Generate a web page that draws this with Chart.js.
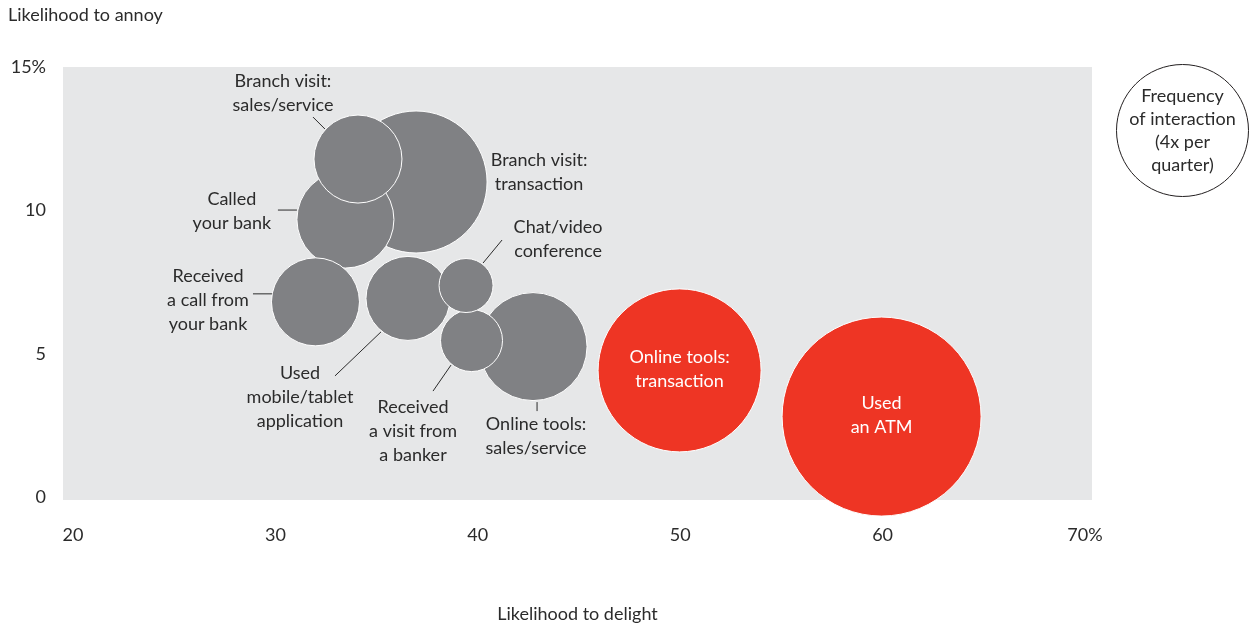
<!DOCTYPE html>
<html>
<head>
<meta charset="utf-8">
<script src="https://cdn.jsdelivr.net/npm/chart.js@4"></script>
<style>
  html, body { margin: 0; padding: 0; background: #fff; }
  #wrap { width: 1254px; height: 629px; position: relative; }
</style>
</head>
<body>
<div id="wrap"><canvas id="bubbleChart"></canvas></div>
<script>
// Interactions, drawn back to front
const interactions = [
    ['Branch visit:', 'transaction'],
    ['Called', 'your bank'],
    ['Branch visit:', 'sales/service'],
    ['Received', 'a call from', 'your bank'],
    ['Used', 'mobile/tablet', 'application'],
    ['Online tools:', 'sales/service'],
    ['Received', 'a visit from', 'a banker'],
    ['Chat/video', 'conference'],
    ['Online tools:', 'transaction'],
    ['Used', 'an ATM']
];
const delight = [36.95, 33.46, 34.08, 31.98, 36.55, 42.73, 39.69, 39.42, 49.97, 59.95];
const annoy = [10.99, 9.68, 11.79, 6.81, 6.93, 5.25, 5.46, 7.38, 4.42, 2.81];
const bubbleSize = [71, 48.5, 44, 44, 42, 54, 31, 27, 81.5, 99.5];
const digital = [false, false, false, false, false, false, false, false, true, true];

const xTicks = [20, 30, 40, 50, 60, 70];
const yTicks = [0, 5, 10, 15];

const GRAY = '#808184';
const RED = '#EE3524';
const TEXT = '#2b2b2b';
const FONT = 'Lato, "Noto Sans", sans-serif';
const FONT_SIZE = 18;

// label placement relative to bubble centre: text offset, optional leader line
const labelLayout = [
    { dx: 123, dy: -22 },
    { dx: -113.5, dy: -20.5, line: [-67.5, -9.5, -48.5, -9.5] },
    { dx: -75, dy: -78, line: [-45, -42, -33, -30] },
    { dx: -107.5, dy: -26, line: [-62.5, -8, -43.5, -8] },
    { dx: -108, dy: 74.5, line: [-73, 77.5, -27, 33.5] },
    { dx: 3, dy: 77.5, line: [4, 55.5, 4, 64.5] },
    { dx: -58.5, dy: 66.5, line: [-38.5, 50.5, -20.5, 24.5] },
    { dx: 92, dy: -58.5, line: [17, -22.5, 36, -45.5] },
    { dx: 0, dy: -13.5, inside: true },
    { dx: 0, dy: -13.5, inside: true }
];

const points = delight.map((x, i) => ({ x: x, y: annoy[i], r: bubbleSize[i] }));

const plotBackground = {
    id: 'plotBackground',
    beforeDraw(chart) {
        const { ctx, chartArea } = chart;
        ctx.save();
        ctx.fillStyle = '#E6E7E8';
        ctx.fillRect(chartArea.left, chartArea.top, chartArea.right - chartArea.left, chartArea.bottom - chartArea.top);
        ctx.restore();
    }
};

const annotations = {
    id: 'annotations',
    afterDraw(chart) {
        const ctx = chart.ctx;
        const xs = chart.scales.x, ys = chart.scales.y;
        ctx.save();
        ctx.font = FONT_SIZE + 'px ' + FONT;
        ctx.textAlign = 'center';
        ctx.textBaseline = 'middle';
        interactions.forEach((lines, i) => {
            const cx = xs.getPixelForValue(delight[i]);
            const cy = ys.getPixelForValue(annoy[i]);
            const lay = labelLayout[i];
            ctx.fillStyle = lay.inside ? '#fff' : TEXT;
            lines.forEach((t, k) => ctx.fillText(t, cx + lay.dx, cy + lay.dy + k * 24));
            if (lay.line) {
                ctx.strokeStyle = TEXT;
                ctx.lineWidth = 1;
                ctx.beginPath();
                ctx.moveTo(cx + lay.line[0], cy + lay.line[1]);
                ctx.lineTo(cx + lay.line[2], cy + lay.line[3]);
                ctx.stroke();
            }
        });

        // axis title at top left
        ctx.fillStyle = TEXT;
        ctx.textAlign = 'left';
        ctx.fillText('Likelihood to annoy', 8, 15);

        // size legend
        ctx.beginPath();
        ctx.arc(1182.5, 130.5, 66, 0, Math.PI * 2);
        ctx.fillStyle = '#fff';
        ctx.fill();
        ctx.strokeStyle = '#231F20';
        ctx.lineWidth = 1;
        ctx.stroke();
        ctx.fillStyle = TEXT;
        ctx.textAlign = 'center';
        ['Frequency', 'of interaction', '(4x per', 'quarter)'].forEach((t, k) => {
            ctx.fillText(t, 1182.5, 96 + k * 23);
        });
        ctx.restore();
    }
};

const ctx = document.getElementById('bubbleChart').getContext('2d');
const chart = new Chart(ctx, {
    type: 'bubble',
    data: {
        datasets: [{
            data: points,
            backgroundColor: digital.map(d => d ? RED : GRAY),
            borderColor: '#ffffff',
            borderWidth: 1,
            hoverBorderWidth: 1,
            clip: false
        }]
    },
    options: {
        responsive: true,
        maintainAspectRatio: false,
        animation: false,
        events: [],
        layout: { autoPadding: false, padding: { top: 67, right: 162, left: 0, bottom: 0 } },
        plugins: {
            legend: { display: false },
            tooltip: { enabled: false }
        },
        scales: {
            x: {
                type: 'linear',
                min: 19.506,
                max: 70.346,
                grid: { display: false },
                border: { display: false },
                afterBuildTicks: s => { s.ticks = xTicks.map(v => ({ value: v })); },
                afterFit: s => { s.height = 129; },
                ticks: {
                    padding: 16,
                    color: TEXT,
                    font: { size: FONT_SIZE, family: FONT },
                    callback: v => v === 70 ? '70%' : v
                },
                title: {
                    display: true,
                    text: 'Likelihood to delight',
                    color: TEXT,
                    font: { size: FONT_SIZE, family: FONT },
                    padding: { top: 0, bottom: 4 }
                }
            },
            y: {
                type: 'linear',
                min: -0.1,
                max: 15,
                grid: { display: false },
                border: { display: false },
                afterBuildTicks: s => { s.ticks = yTicks.map(v => ({ value: v })); },
                afterFit: s => { s.width = 63; },
                ticks: {
                    padding: 9,
                    color: TEXT,
                    font: { size: FONT_SIZE, family: FONT },
                    callback: v => v === 15 ? '15%' : v
                }
            }
        }
    },
    plugins: [plotBackground, annotations]
});
</script>
</body>
</html>
